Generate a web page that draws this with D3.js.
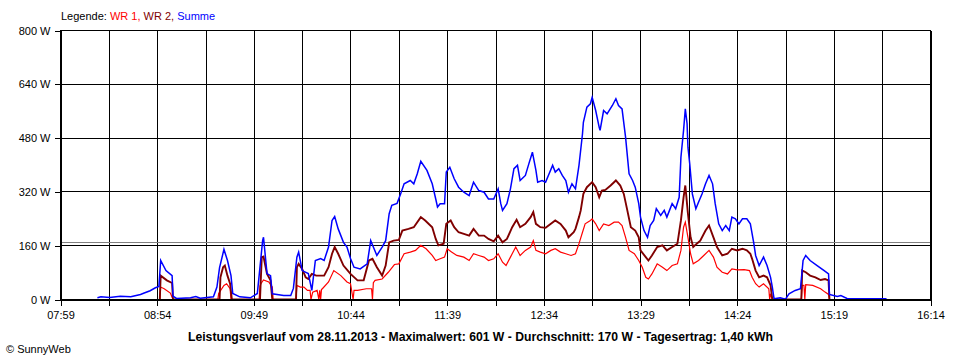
<!DOCTYPE html>
<html><head><meta charset="utf-8">
<script src="https://cdn.jsdelivr.net/npm/d3@7"></script>
<style>
html,body{margin:0;padding:0;background:#fff;}
svg{display:block;font-family:"Liberation Sans",Arial,sans-serif;}
</style></head>
<body><svg id="c" width="960" height="360"></svg>
<script>
// ---- data ----
const yTicks = [0, 160, 320, 480, 640, 800];
const xTickLabels = ["07:59","08:54","09:49","10:44","11:39","12:34","13:29","14:24","15:19","16:14"];
const average = 170;
const titleText = "Leistungsverlauf vom 28.11.2013 - Maximalwert: 601 W - Durchschnitt: 170 W - Tagesertrag: 1,40 kWh";

const summe = [
["08:20:00",5],["08:22:00",8],["08:27:00",6],["08:33:00",10],["08:39:00",8],["08:44:30",15],["08:47:00",20],["08:50:00",26],["08:53:00",35],["08:55:00",39],
["08:56:00",116],["08:59:00",86],["09:02:30",71],["09:03:00",10],["09:05:00",3],["09:13:00",5],["09:16:00",9],["09:18:30",4],["09:26:00",8],["09:28:00",37],
["09:29:30",95],["09:32:00",149],["09:34:00",116],["09:36:00",71],["09:37:00",18],["09:41:00",8],["09:47:00",5],["09:51:00",18],["09:54:00",175],["09:54:30",185],
["09:56:30",77],["09:58:30",71],["09:59:30",17],["10:06:00",12],["10:10:00",12],["10:11:30",33],["10:13:30",126],["10:14:30",141],["10:16:30",86],["10:20:00",77],
["10:22:00",27],["10:24:00",116],["10:27:00",122],["10:29:00",116],["10:31:30",156],["10:33:30",235],["10:35:00",247],["10:37:00",210],["10:40:00",170],["10:42:00",156],
["10:44:00",122],["10:46:00",96],["10:49:30",91],["10:53:30",106],["10:55:30",175],["10:57:00",156],["10:59:00",131],["11:02:00",156],["11:04:00",175],["11:06:00",255],
["11:07:30",280],["11:10:30",286],["11:12:30",314],["11:14:30",344],["11:18:00",354],["11:20:00",344],["11:22:00",374],["11:24:00",411],["11:27:30",384],["11:30:30",344],
["11:32:30",299],["11:33:30",275],["11:35:00",285],["11:37:30",285],["11:38:30",379],["11:40:30",393],["11:43:00",359],["11:45:30",334],["11:48:30",319],["11:51:30",309],
["11:54:00",349],["11:57:00",324],["12:00:00",319],["12:02:30",299],["12:05:30",299],["12:08:00",329],["12:09:30",285],["12:10:30",265],["12:13:00",285],["12:15:00",329],
["12:17:00",389],["12:19:00",399],["12:20:30",354],["12:23:30",369],["12:25:30",404],["12:27:30",438],["12:29:30",384],["12:30:30",349],["12:33:00",354],["12:35:00",349],
["12:37:00",374],["12:39:00",399],["12:40:30",379],["12:42:30",389],["12:44:30",369],["12:46:30",354],["12:48:00",319],["12:50:00",344],["12:52:00",329],["12:54:00",399],
["12:56:00",493],["12:56:30",527],["12:58:30",572],["13:00:30",582],["13:01:30",601],["13:03:30",562],["13:05:30",512],["13:06:00",503],["13:08:00",562],["13:10:00",552],
["13:13:00",577],["13:15:00",597],["13:16:30",577],["13:18:30",567],["13:20:30",483],["13:22:30",374],["13:24:30",354],["13:26:00",334],["13:28:00",285],["13:29:00",245],
["13:31:00",205],["13:33:00",185],["13:34:30",220],["13:36:30",235],["13:38:00",270],["13:40:30",250],["13:42:30",265],["13:44:00",245],["13:47:00",285],["13:49:00",270],
["13:51:00",304],["13:52:00",423],["13:53:30",503],["13:54:30",567],["13:55:30",523],["13:56:00",453],["13:57:00",404],["13:58:30",314],["14:00:30",270],["14:02:00",289],
["14:04:00",314],["14:06:00",344],["14:08:00",369],["14:10:00",344],["14:11:30",285],["14:13:30",225],["14:15:30",205],["14:17:30",220],["14:19:30",205],["14:21:00",245],
["14:23:00",240],["14:25:00",225],["14:27:00",240],["14:29:30",240],["14:31:30",225],["14:33:30",166],["14:34:30",131],["14:36:30",101],["14:39:00",126],["14:41:00",101],
["14:43:00",66],["14:44:00",37],["14:45:00",2],["14:48:30",5],["14:51:30",1],["14:53:30",17],["14:57:00",27],["15:00:00",32],["15:01:30",116],["15:03:00",131],
["15:05:30",116],["15:09:30",101],["15:13:30",86],["15:16:00",76],["15:16:30",15],["15:21:00",9],["15:23:00",12],["15:26:30",3],["15:38:00",2],["15:49:00",2]
];

const wr2 = [
["08:55:30",0],["08:56:00",71],["08:59:30",57],["09:02:30",49],["09:03:00",0],
["09:29:30",0],["09:30:00",66],["09:31:30",96],["09:32:30",101],["09:34:00",71],["09:35:30",47],["09:36:30",0],
["09:52:30",0],["09:53:30",126],["09:54:30",128],["09:56:30",76],["09:58:30",57],["09:59:30",0],
["10:13:00",0],["10:13:30",96],["10:14:30",106],["10:16:30",91],["10:18:30",66],["10:20:00",61],["10:22:00",76],["10:24:30",71],["10:29:00",71],["10:31:30",96],
["10:33:30",136],["10:35:00",156],["10:37:00",136],["10:40:00",101],["10:44:00",76],["10:48:00",57],["10:51:30",57],["10:54:30",116],["10:56:30",121],["10:59:00",96],
["11:02:00",71],["11:04:00",101],["11:06:00",170],["11:08:30",175],["11:11:30",177],["11:13:30",205],["11:17:00",210],["11:20:00",215],["11:24:00",245],["11:26:30",235],
["11:30:30",215],["11:32:30",180],["11:34:00",161],["11:37:00",166],["11:38:30",225],["11:41:00",235],["11:43:00",215],["11:45:30",200],["11:48:30",195],["11:51:30",190],
["11:54:00",210],["11:57:00",190],["12:00:00",190],["12:02:30",180],["12:05:30",173],["12:08:00",190],["12:10:30",170],["12:13:00",180],["12:16:00",215],["12:18:30",237],
["12:20:30",215],["12:23:30",225],["12:26:30",245],["12:28:00",260],["12:29:30",225],["12:32:00",215],["12:35:00",213],["12:38:00",225],["12:40:30",235],["12:43:30",225],
["12:46:30",205],["12:48:00",185],["12:51:00",200],["12:52:00",210],["12:54:00",245],["12:55:00",265],["12:56:30",314],["12:58:30",334],["13:01:30",349],["13:03:30",334],
["13:05:30",304],["13:07:00",324],["13:09:00",326],["13:12:00",339],["13:15:00",354],["13:17:30",339],["13:19:30",314],["13:21:30",265],["13:23:30",215],["13:26:00",205],
["13:28:00",185],["13:29:00",146],["13:32:00",126],["13:33:30",116],["13:35:30",131],["13:38:30",156],["13:41:30",161],["13:44:00",146],["13:47:00",156],["13:50:00",166],
["13:52:00",235],["13:53:30",304],["13:54:30",339],["13:56:00",255],["13:57:30",185],["13:59:00",156],["14:01:00",166],["14:03:00",175],["14:06:00",205],["14:08:00",220],
["14:10:30",185],["14:12:30",156],["14:15:30",131],["14:18:30",136],["14:21:00",151],["14:24:00",146],["14:27:00",151],["14:29:30",146],["14:31:30",136],["14:32:30",121],
["14:34:30",86],["14:36:30",66],["14:39:00",71],["14:41:00",66],["14:43:00",42],["14:44:00",0],
["15:00:30",0],["15:01:00",86],["15:03:00",81],["15:05:30",71],["15:08:30",66],["15:11:30",58],["15:14:00",61],["15:16:00",57],["15:16:30",0]
];

const wr1 = [
["08:55:30",0],["08:56:00",37],["08:58:00",32],["09:01:30",19],["09:03:00",0],
["09:28:30",0],["09:29:00",18],["09:32:00",42],["09:33:30",47],["09:35:30",32],["09:36:00",0],
["09:52:00",0],["09:52:30",40],["09:53:00",47],["09:54:30",58],["09:57:30",52],["09:59:30",37],["10:00:00",0],
["10:13:00",0],["10:13:30",42],["10:15:30",37],["10:17:30",37],["10:19:30",27],["10:21:00",27],["10:21:30",0],["10:22:30",22],["10:25:00",27],["10:26:00",0],
["10:26:30",27],["10:27:00",0],["10:27:30",30],["10:28:00",32],["10:31:30",52],["10:34:30",86],["10:38:30",71],["10:42:00",52],["10:44:00",47],["10:45:30",0],
["10:46:00",27],["10:48:00",27],["10:53:00",32],["10:56:00",32],["10:56:30",0],["10:57:00",50],["10:58:00",57],["11:02:00",61],["11:05:30",81],["11:09:00",104],
["11:11:30",106],["11:14:30",136],["11:18:00",141],["11:21:00",146],["11:24:00",161],["11:27:00",151],["11:30:30",131],["11:32:30",116],["11:35:00",121],["11:37:30",126],
["11:39:00",151],["11:41:30",141],["11:44:30",131],["11:48:30",126],["11:51:30",116],["11:54:00",136],["11:57:00",131],["12:00:00",126],["12:02:30",116],["12:05:30",121],
["12:08:00",136],["12:10:30",111],["12:12:30",101],["12:15:00",126],["12:18:00",156],["12:20:30",131],["12:23:30",146],["12:26:30",156],["12:28:00",175],["12:29:30",146],
["12:32:00",141],["12:35:00",136],["12:38:00",146],["12:40:30",151],["12:43:30",141],["12:46:30",136],["12:49:30",131],["12:52:00",136],["12:54:00",166],["12:56:00",200],
["12:57:30",225],["13:00:30",235],["13:01:30",240],["13:03:30",225],["13:05:30",205],["13:08:00",225],["13:11:00",220],["13:14:00",230],["13:16:30",230],["13:18:30",220],
["13:20:30",185],["13:22:30",146],["13:25:30",136],["13:28:00",116],["13:30:00",96],["13:32:00",66],["13:33:30",61],["13:35:30",76],["13:38:30",106],["13:41:30",96],
["13:44:00",86],["13:47:00",101],["13:50:00",106],["13:52:00",146],["13:53:30",215],["13:54:30",230],["13:56:00",185],["13:57:30",136],["13:59:00",106],["14:02:00",116],
["14:05:00",131],["14:08:00",146],["14:10:30",126],["14:12:30",96],["14:15:30",81],["14:18:30",76],["14:21:00",91],["14:24:00",88],["14:28:00",89],["14:31:00",86],
["14:32:30",66],["14:34:30",47],["14:36:30",37],["14:39:00",47],["14:42:00",32],["14:42:30",0],["14:43:00",17],["14:44:00",0],
["15:00:30",0],["15:01:00",42],["15:02:00",42],["15:02:30",0],["15:03:00",44],["15:07:00",42],["15:11:30",32],["15:14:00",22],["15:16:00",15],["15:16:30",0]
];

// ---- chart ----
const svg = d3.select("#c");
const parse = d3.timeParse("%H:%M:%S");
const p = s => parse(s.length === 5 ? s + ":00" : s);
const L = 60.5, R = 930.5, T = 30.5, B = 299.5;

const x = d3.scaleTime().domain([p(xTickLabels[0]), p(xTickLabels[xTickLabels.length-1])]).range([L, R]);
const y = d3.scaleLinear().domain([0, 800]).range([B, T]);

// gridline times: labelled ticks plus midpoints between them
const labelTimes = xTickLabels.map(p);
const gridTimes = [];
labelTimes.forEach((t, i) => {
  gridTimes.push(t);
  if (i < labelTimes.length - 1) gridTimes.push(new Date((+t + +labelTimes[i+1]) / 2));
});

const grid = svg.append("g").attr("shape-rendering", "crispEdges");
grid.selectAll("line.v").data(gridTimes).join("line")
  .attr("x1", d => Math.round(x(d)) + 0.5).attr("x2", d => Math.round(x(d)) + 0.5)
  .attr("y1", T).attr("y2", B).attr("stroke", "#000").attr("stroke-width", 1);
grid.selectAll("line.h").data(yTicks).join("line")
  .attr("x1", L).attr("x2", R)
  .attr("y1", d => Math.round(y(d) - 0.5) + 0.5).attr("y2", d => Math.round(y(d) - 0.5) + 0.5)
  .attr("stroke", "#000").attr("stroke-width", 1);
// average line
grid.append("line").attr("x1", L).attr("x2", R)
  .attr("y1", Math.round(y(average) - 0.5) + 0.5).attr("y2", Math.round(y(average) - 0.5) + 0.5)
  .attr("stroke", "#808080").attr("stroke-width", 1);

// series
const line = d3.line().x(d => x(p(d[0]))).y(d => y(d[1])).curve(d3.curveLinear);
const series = [
  {data: wr1, color: "#ff0000", w: 1.2},
  {data: wr2, color: "#800000", w: 1.9},
  {data: summe, color: "#0000ff", w: 1.5}
];
svg.append("g").selectAll("path").data(series).join("path")
  .attr("d", d => line(d.data)).attr("fill", "none")
  .attr("stroke", d => d.color).attr("stroke-width", d => d.w)
  .attr("stroke-linejoin", "miter");

// axes
const yAxis = d3.axisLeft(y).tickValues(yTicks).tickSize(6).tickSizeOuter(0).tickPadding(4)
  .tickFormat(d => d + " W");
const gy = svg.append("g").attr("transform", `translate(${L},0)`).attr("shape-rendering", "crispEdges").call(yAxis);
gy.select(".domain").attr("stroke", "#000");
gy.selectAll(".tick line").attr("stroke", "#000");
gy.selectAll("text").attr("font-size", 11).attr("fill", "#000").attr("font-family", '"Liberation Sans",Arial,sans-serif');

const fmt = d3.timeFormat("%H:%M");
const labelSet = new Set(labelTimes.map(d => +d));
const xAxis = d3.axisBottom(x).tickValues(gridTimes).tickSize(6).tickSizeOuter(0).tickPadding(6)
  .tickFormat(d => labelSet.has(+d) ? fmt(d) : "");
const gx = svg.append("g").attr("transform", `translate(0,${B})`).attr("shape-rendering", "crispEdges").call(xAxis);
gx.select(".domain").attr("stroke", "#000");
gx.selectAll(".tick line").attr("stroke", "#000");
gx.selectAll("text").attr("font-size", 11).attr("fill", "#000").attr("font-family", '"Liberation Sans",Arial,sans-serif');

// frame top/right
svg.append("g").attr("shape-rendering", "crispEdges").append("rect")
  .attr("x", L).attr("y", T).attr("width", R - L).attr("height", B - T)
  .attr("fill", "none").attr("stroke", "#000");

// legend
const leg = svg.append("text").attr("x", 61).attr("y", 20).attr("font-size", 11);
leg.append("tspan").attr("fill", "#000").text("Legende: ");
leg.append("tspan").attr("fill", "#ff0000").text("WR 1, ");
leg.append("tspan").attr("fill", "#800000").text("WR 2, ");
leg.append("tspan").attr("fill", "#0000ff").text("Summe");

// title
svg.append("text").attr("x", 480.5).attr("y", 341).attr("text-anchor", "middle")
  .attr("font-size", 12).attr("font-weight", "bold")
  .attr("textLength", 585).attr("lengthAdjust", "spacingAndGlyphs")
  .text(titleText);

// copyright
svg.append("text").attr("x", 6).attr("y", 353).attr("font-size", 11).text("\u00A9 SunnyWeb");
</script></body></html>
